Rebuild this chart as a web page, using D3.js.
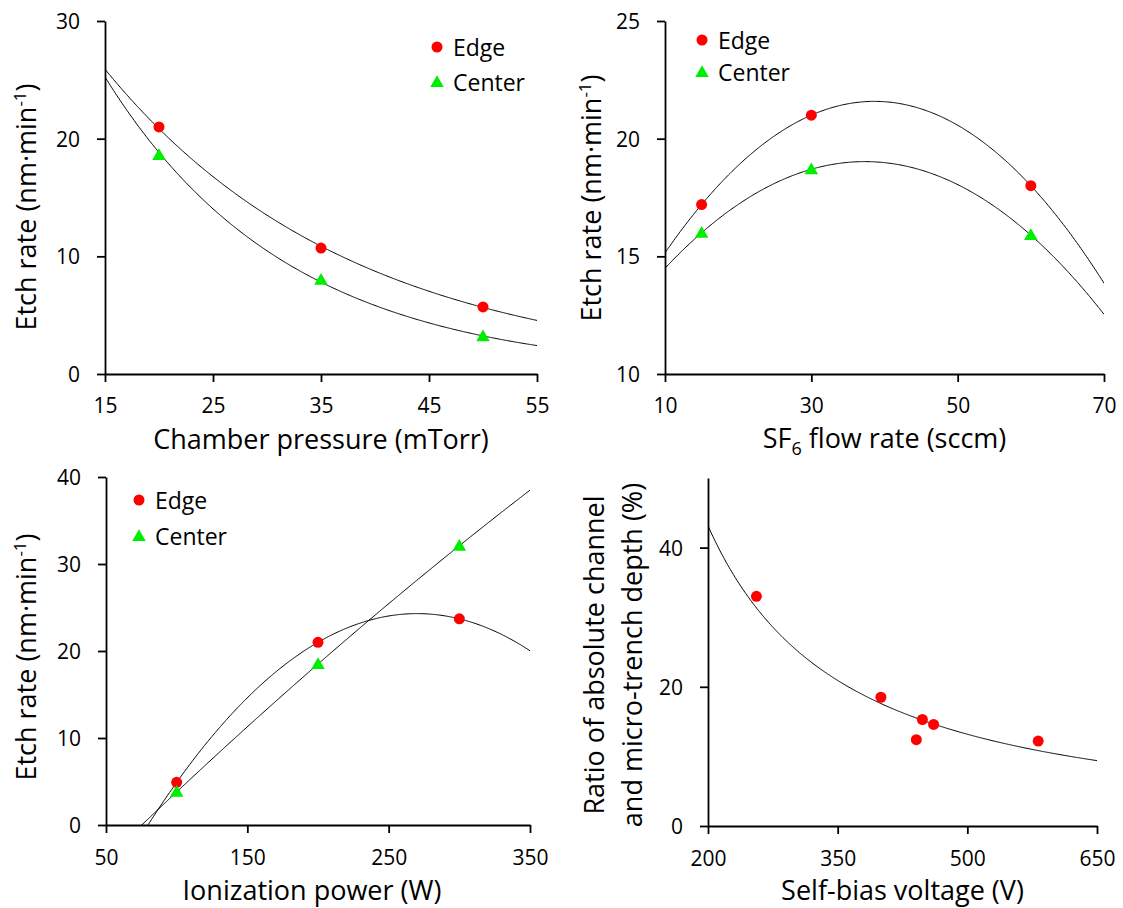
<!DOCTYPE html>
<html>
<head>
<meta charset="utf-8">
<script src="https://cdn.jsdelivr.net/npm/d3@7"></script>
<style>
  html, body { margin: 0; padding: 0; background: #fff; }
  svg { display: block; font-family: "Open Sans", sans-serif; }
</style>
</head>
<body>
<svg id="chart" width="1123" height="908"></svg>
<script>
// ---- Measured data -------------------------------------------------------
// (a) chamber pressure sweep
const pressure = [20, 35, 50];                 // mTorr
const pressureEdge = [21.0, 10.7, 5.7];        // nm/min
const pressureCenter = [18.6, 8.0, 3.2];
const pressureTicksX = [15, 25, 35, 45, 55];
const pressureTicksY = [0, 10, 20, 30];

// (b) SF6 flow sweep
const sf6Flow = [15, 30, 60];                  // sccm
const sf6Edge = [17.2, 21.0, 18.0];
const sf6Center = [16.0, 18.7, 15.9];
const sf6TicksX = [10, 30, 50, 70];
const sf6TicksY = [10, 15, 20, 25];

// (c) ionization power sweep
const ionPower = [100, 200, 300];              // W
const ionEdge = [4.9, 21.0, 23.7];
const ionCenter = [3.8, 18.5, 32.1];
const ionTicksX = [50, 150, 250, 350];
const ionTicksY = [0, 10, 20, 30, 40];

// (d) self-bias voltage vs. depth ratio
const biasVoltage = [256, 400, 441, 448, 461, 582];   // V
const depthRatio = [33.0, 18.5, 12.4, 15.3, 14.6, 12.2]; // %
const biasTicksX = [200, 350, 500, 650];
const biasTicksY = [0, 20, 40];

const seriesNames = ["Edge", "Center"];
const RED = "#ff0000";
const GREEN = "#00ee00";

// ---- Least-squares trendlines --------------------------------------------
function linReg(xs, ys) {
  const n = xs.length;
  const mx = d3.mean(xs), my = d3.mean(ys);
  let sxy = 0, sxx = 0;
  for (let i = 0; i < n; i++) { sxy += (xs[i] - mx) * (ys[i] - my); sxx += (xs[i] - mx) ** 2; }
  const b = sxy / sxx;
  return { a: my - b * mx, b };
}
function expFit(xs, ys) {
  const r = linReg(xs, ys.map(Math.log));
  return x => Math.exp(r.a + r.b * x);
}
function powerFit(xs, ys) {
  const r = linReg(xs.map(Math.log), ys.map(Math.log));
  return x => Math.exp(r.a) * Math.pow(x, r.b);
}
function poly2Fit(xs, ys) {
  // normal equations for y = c0 + c1 x + c2 x^2
  const S = k => d3.sum(xs, x => x ** k);
  const T = k => d3.sum(xs, (x, i) => ys[i] * x ** k);
  const M = [[S(0), S(1), S(2), T(0)], [S(1), S(2), S(3), T(1)], [S(2), S(3), S(4), T(2)]];
  for (let c = 0; c < 3; c++) {
    let p = c;
    for (let r = c + 1; r < 3; r++) if (Math.abs(M[r][c]) > Math.abs(M[p][c])) p = r;
    [M[c], M[p]] = [M[p], M[c]];
    for (let r = 0; r < 3; r++) {
      if (r === c) continue;
      const f = M[r][c] / M[c][c];
      for (let k = c; k < 4; k++) M[r][k] -= f * M[c][k];
    }
  }
  const c0 = M[0][3] / M[0][0], c1 = M[1][3] / M[1][1], c2 = M[2][3] / M[2][2];
  return x => c0 + c1 * x + c2 * x * x;
}

const svg = d3.select("#chart");
let clipId = 0;

function drawPanel(p) {
  const x = d3.scaleLinear().domain(p.xDomain).range([p.left, p.right]);
  const y = d3.scaleLinear().domain(p.yDomain).range([p.bottom, p.top]);
  const g = svg.append("g");

  const cid = "clip" + (clipId++);
  g.append("clipPath").attr("id", cid).append("rect")
    .attr("x", p.left).attr("y", p.top)
    .attr("width", p.right - p.left).attr("height", p.bottom - p.top);

  // trendlines
  const line = d3.line().x(d => x(d[0])).y(d => y(d[1]));
  const [x0, x1] = p.xDomain;
  const step = (x1 - x0) / 400;
  p.fits.forEach(f => {
    const pts = d3.range(x0, x1 + step / 2, step).map(v => [v, f(v)]);
    g.append("path").attr("d", line(pts))
      .attr("fill", "none").attr("stroke", "#000").attr("stroke-width", 1)
      .attr("clip-path", `url(#${cid})`);
  });

  // axes
  const ax = g.append("g").attr("transform", `translate(0,${p.bottom})`)
    .call(d3.axisBottom(x).tickValues(p.xTicks).tickSize(8).tickSizeOuter(0));
  const ay = g.append("g").attr("transform", `translate(${p.left},0)`)
    .call(d3.axisLeft(y).tickValues(p.yTicks).tickSize(8).tickSizeOuter(0));
  [ax, ay].forEach(a => {
    a.attr("font-family", null).attr("font-size", null);
    a.selectAll("path, line").attr("stroke", "#000").attr("stroke-width", 1.8);
    a.selectAll("text").attr("fill", "#000").style("font-size", "21px");
  });
  ax.selectAll("text").attr("y", p.xTickY).attr("dy", 0);
  ay.selectAll("text").attr("x", -25).attr("dy", "0.36em");

  // markers
  p.series.forEach(s => {
    s.xs.forEach((xv, i) => {
      drawMarker(g, s.shape, x(xv), y(s.ys[i]));
    });
  });

  // axis titles
  const xt = g.append("text").attr("x", p.xTitleX ?? (p.left + p.right) / 2)
    .attr("y", p.xTitleY).attr("text-anchor", "middle").style("font-size", "27px");
  p.xTitle(xt);

  p.yTitles.forEach(t => {
    const yt = g.append("text")
      .attr("transform", `translate(${t.x},${t.y}) rotate(-90)`)
      .attr("text-anchor", "middle").style("font-size", "27px");
    t.build(yt);
  });

  // legend
  if (p.legend) {
    p.legend.items.forEach((it, i) => {
      const ly = p.legend.y + i * p.legend.dy;
      drawMarker(g, it.shape, p.legend.x, ly);
      g.append("text").attr("x", p.legend.x + 16).attr("y", ly + 8.5)
        .style("font-size", "23px").text(it.name);
    });
  }
}

function drawMarker(g, shape, cx, cy) {
  if (shape === "circle") {
    g.append("circle").attr("cx", cx).attr("cy", cy).attr("r", 5.5).attr("fill", RED);
  } else {
    g.append("path").attr("d", d3.symbol(d3.symbolTriangle, 80)())
      .attr("transform", `translate(${cx},${cy + 1})`).attr("fill", GREEN);
  }
}

function etchTitle(t) {
  t.append("tspan").text("Etch rate (nm·min");
  t.append("tspan").attr("dy", -10).style("font-size", "17px").text("-1");
  t.append("tspan").attr("dy", 10).text(")");
}

const legendItems = [{ name: seriesNames[0], shape: "circle" }, { name: seriesNames[1], shape: "triangle" }];

// (a)
drawPanel({
  left: 105, right: 537, top: 21, bottom: 374,
  xDomain: [15, 55], yDomain: [0, 30], xTicks: pressureTicksX, yTicks: pressureTicksY,
  fits: [expFit(pressure, pressureEdge), expFit(pressure, pressureCenter)],
  series: [{ xs: pressure, ys: pressureEdge, shape: "circle" }, { xs: pressure, ys: pressureCenter, shape: "triangle" }],
  xTickY: 39,
  xTitle: t => t.text("Chamber pressure (mTorr)"), xTitleY: 449,
  yTitles: [{ x: 36, y: 207, build: etchTitle }],
  legend: { x: 437, y: 47, dy: 35, items: legendItems }
});

// (b)
drawPanel({
  left: 665, right: 1104, top: 21, bottom: 374,
  xDomain: [10, 70], yDomain: [10, 25], xTicks: sf6TicksX, yTicks: sf6TicksY,
  fits: [poly2Fit(sf6Flow, sf6Edge), poly2Fit(sf6Flow, sf6Center)],
  series: [{ xs: sf6Flow, ys: sf6Edge, shape: "circle" }, { xs: sf6Flow, ys: sf6Center, shape: "triangle" }],
  xTickY: 39,
  xTitle: t => {
    t.append("tspan").text("SF");
    t.append("tspan").attr("dy", 7).style("font-size", "18px").text("6");
    t.append("tspan").attr("dy", -7).text(" flow rate (sccm)");
  }, xTitleY: 448,
  yTitles: [{ x: 601, y: 198, build: etchTitle }],
  legend: { x: 702, y: 40, dy: 32, items: legendItems }
});

// (c)
drawPanel({
  left: 106, right: 530, top: 477, bottom: 825,
  xDomain: [50, 350], yDomain: [0, 40], xTicks: ionTicksX, yTicks: ionTicksY,
  fits: [poly2Fit(ionPower, ionEdge), poly2Fit(ionPower, ionCenter)],
  series: [{ xs: ionPower, ys: ionEdge, shape: "circle" }, { xs: ionPower, ys: ionCenter, shape: "triangle" }],
  xTickY: 40,
  xTitle: t => t.text("Ionization power (W)"), xTitleY: 900, xTitleX: 312,
  yTitles: [{ x: 36, y: 657, build: etchTitle }],
  legend: { x: 139, y: 500, dy: 36, items: legendItems }
});

// (d)
drawPanel({
  left: 708, right: 1097, top: 478, bottom: 826,
  xDomain: [200, 650], yDomain: [0, 50], xTicks: biasTicksX, yTicks: biasTicksY,
  fits: [powerFit(biasVoltage, depthRatio)],
  series: [{ xs: biasVoltage, ys: depthRatio, shape: "circle" }],
  xTickY: 40,
  xTitle: t => t.text("Self-bias voltage (V)"), xTitleY: 900,
  yTitles: [
    { x: 604, y: 655, build: t => t.text("Ratio of absolute channel") },
    { x: 642, y: 655, build: t => t.text("and micro-trench depth (%)") }
  ]
});
</script>
</body>
</html>
